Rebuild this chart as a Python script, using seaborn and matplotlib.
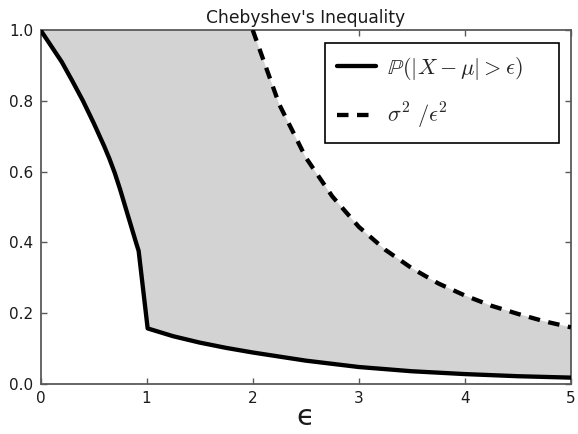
import numpy as np
import matplotlib
matplotlib.use("Agg")
import matplotlib.pyplot as plt
from matplotlib.font_manager import FontProperties
import seaborn as sns

# Tail probability P(|X - mu| > eps) of the example distribution
eps_tail = [0.0, 0.1, 0.2, 0.3, 0.4, 0.5, 0.6, 0.65, 0.7, 0.75, 0.8, 0.85, 0.9, 0.925,
            1.01, 1.25, 1.5, 1.75, 2.0, 2.5, 3.0, 3.5, 4.0, 4.5, 5.0]
prob_tail = [1.0, 0.955, 0.91, 0.856, 0.80, 0.738, 0.672, 0.636, 0.596, 0.55, 0.50, 0.45, 0.40, 0.376,
             0.157, 0.135, 0.117, 0.102, 0.089, 0.066, 0.048, 0.036, 0.028, 0.022, 0.018]

# Chebyshev upper bound sigma^2 / eps^2 (shown where it is below 1)
eps_bound = [2.0, 2.25, 2.5, 2.75, 3.0, 3.25, 3.5, 3.75, 4.0, 4.25, 4.5, 4.75, 5.0]
bound = [1.0, 0.79, 0.64, 0.53, 0.444, 0.379, 0.327, 0.284, 0.25, 0.221, 0.198, 0.177, 0.16]

x_ticks = [0, 1, 2, 3, 4, 5]
y_ticks = [0.0, 0.2, 0.4, 0.6, 0.8, 1.0]

sns.set_style("ticks")
plt.rcParams.update({
    "font.family": ["DejaVu Sans"],
    "axes.edgecolor": "#5a5a5a",
    "axes.linewidth": 1.3,
    "xtick.color": "#5a5a5a",
    "ytick.color": "#5a5a5a",
    "xtick.labelcolor": "#1a1a1a",
    "ytick.labelcolor": "#1a1a1a",
    "xtick.direction": "in",
    "ytick.direction": "in",
    "xtick.top": True,
    "ytick.right": True,
    "xtick.major.size": 4,
    "ytick.major.size": 4,
    "xtick.major.width": 1.0,
    "ytick.major.width": 1.0,
    "xtick.major.pad": 5,
    "ytick.major.pad": 5,
})

W, H = 578, 434
fig = plt.figure(figsize=(W / 100, H / 100), dpi=100)
ax = fig.add_axes([40.5 / W, 1 - 384 / H, (571 - 40.5) / W, (384 - 30) / H])

# Region between the tail probability and the (capped) bound
fill_x = np.r_[0.0, eps_bound, eps_tail[::-1]]
fill_y = np.r_[1.0, bound, prob_tail[::-1]]
ax.fill(fill_x, fill_y, color="#d3d3d3", lw=0, zorder=1)

sns.lineplot(x=eps_tail, y=prob_tail, ax=ax, color="black", lw=3.1,
             errorbar=None, sort=False, label=r"$\mathbb{P}(|X-\mu|>\epsilon)$", zorder=3)
sns.lineplot(x=eps_bound, y=bound, ax=ax, color="black", lw=3.1,
             errorbar=None, sort=False, label=r"$\sigma^2\ /\epsilon^2$", zorder=3)
dash_line = ax.lines[-1]
dash_line.set_linestyle((0, (2.67, 1.98)))
dash_line.set_dash_capstyle("butt")

ax.set_xlim(0, 5)
ax.set_ylim(0, 1)
ax.set_xticks(x_ticks)
ax.set_yticks(y_ticks)
ax.set_xticklabels([str(t) for t in x_ticks], fontsize=11)
ax.set_yticklabels([f"{t:.1f}" for t in y_ticks], fontsize=11)
for s in ax.spines.values():
    s.set_visible(True)

ax.set_title("Chebyshev's Inequality", fontsize=12.3, color="#1a1a1a", pad=5)
ax.set_xlabel("\u03f5", fontsize=21, color="#1a1a1a", labelpad=-2)

leg_font = FontProperties(size=16, math_fontfamily="cm")
leg = ax.legend(loc="upper right", prop=leg_font, frameon=True, fancybox=False,
                bbox_to_anchor=(0.536, 0.0, 0.441, 0.964), mode="expand",
                borderaxespad=0.0, handlelength=1.75, handletextpad=0.5,
                borderpad=0.55, labelspacing=0.85)
leg.get_frame().set_edgecolor("black")
leg.get_frame().set_linewidth(1.2)
leg.get_frame().set_alpha(1.0)

fig.savefig("out.png", dpi=100)
